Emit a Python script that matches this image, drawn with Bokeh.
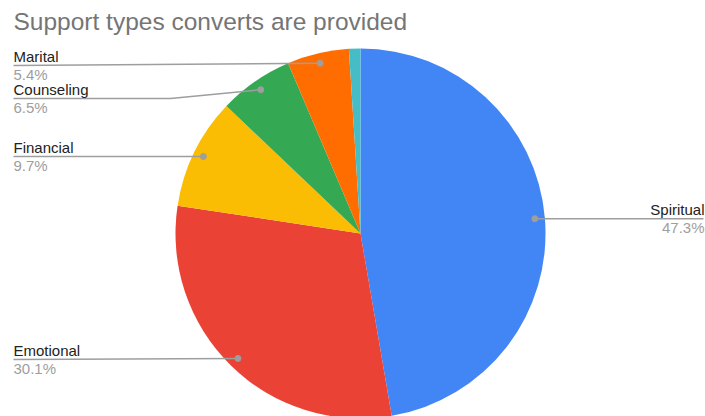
import numpy as np
from bokeh.plotting import figure
from bokeh.models import Range1d
from bokeh.core.properties import value
from bokeh.embed import file_html
from bokeh.resources import INLINE

# ---- data ----
categories = ["Spiritual", "Emotional", "Financial", "Counseling", "Marital", "Other"]
percents = [47.3, 30.1, 9.7, 6.5, 5.4, 1.0]
colors = ["#4285F4", "#EA4335", "#FBBC04", "#34A853", "#FF6D01", "#46BDC6"]
title_text = "Support types converts are provided"

W, H = 705, 416
p = figure(width=W, height=H, output_backend="svg", toolbar_location=None,
           x_range=Range1d(0, W), y_range=Range1d(0, H), min_border=0)
p.axis.visible = False
p.grid.visible = False
p.outline_line_color = None
p.background_fill_color = "white"
p.border_fill_color = "white"

def Y(y):  # image-y to plot-y
    return H - y

cx, cy, R = 360, Y(233), 185
vals = np.array(percents) / sum(percents)
cum = np.concatenate([[0], np.cumsum(vals)])
starts = np.pi / 2 - 2 * np.pi * cum[:-1]
ends = np.pi / 2 - 2 * np.pi * cum[1:]

p.wedge(x=cx, y=cy, radius=R, start_angle=list(starts), end_angle=list(ends),
        direction="clock", fill_color=colors, line_color=None)

font = value("Liberation Sans")
mids = (cum[:-1] + cum[1:]) / 2
label_y = {"Marital": 65, "Counseling": 98, "Financial": 156, "Emotional": 359}
line_col = "#9e9e9e"
for i, name in enumerate(categories):
    if name == "Other":
        continue
    ang = 2 * np.pi * mids[i]
    dx = cx + 0.946 * R * np.sin(ang)
    dy = cy + 0.946 * R * np.cos(ang)
    pct = f"{percents[i]:.1f}%"
    if name == "Spiritual":
        lx, ly, al = 704, dy, "right"
        p.line([dx, 703], [dy, dy], line_color=line_col, line_width=1.5)
    else:
        lx, ly, al = 13, Y(label_y[name]), "left"
        if name == "Counseling":
            xs, ys = [13, 170, dx], [ly, ly, dy]
        else:
            xs, ys = [13, dx], [ly, dy]
        p.line(xs, ys, line_color=line_col, line_width=1.5)
    p.scatter([dx], [dy], size=6, color=line_col)
    p.text([lx], [ly + 9], text=[name], text_align=al, text_baseline="alphabetic",
           text_font=font, text_font_size="15px", text_color="#222222")
    p.text([lx], [ly], text=[pct], text_align=al, text_baseline="top",
           text_font=font, text_font_size="15px", text_color="#9e9e9e")

p.text([13], [Y(21)], text=[title_text], text_align="left", text_baseline="alphabetic",
       text_font=font, text_font_size="24.5px", text_color="#757575")

open("out.html", "w").write(file_html(p, INLINE))
